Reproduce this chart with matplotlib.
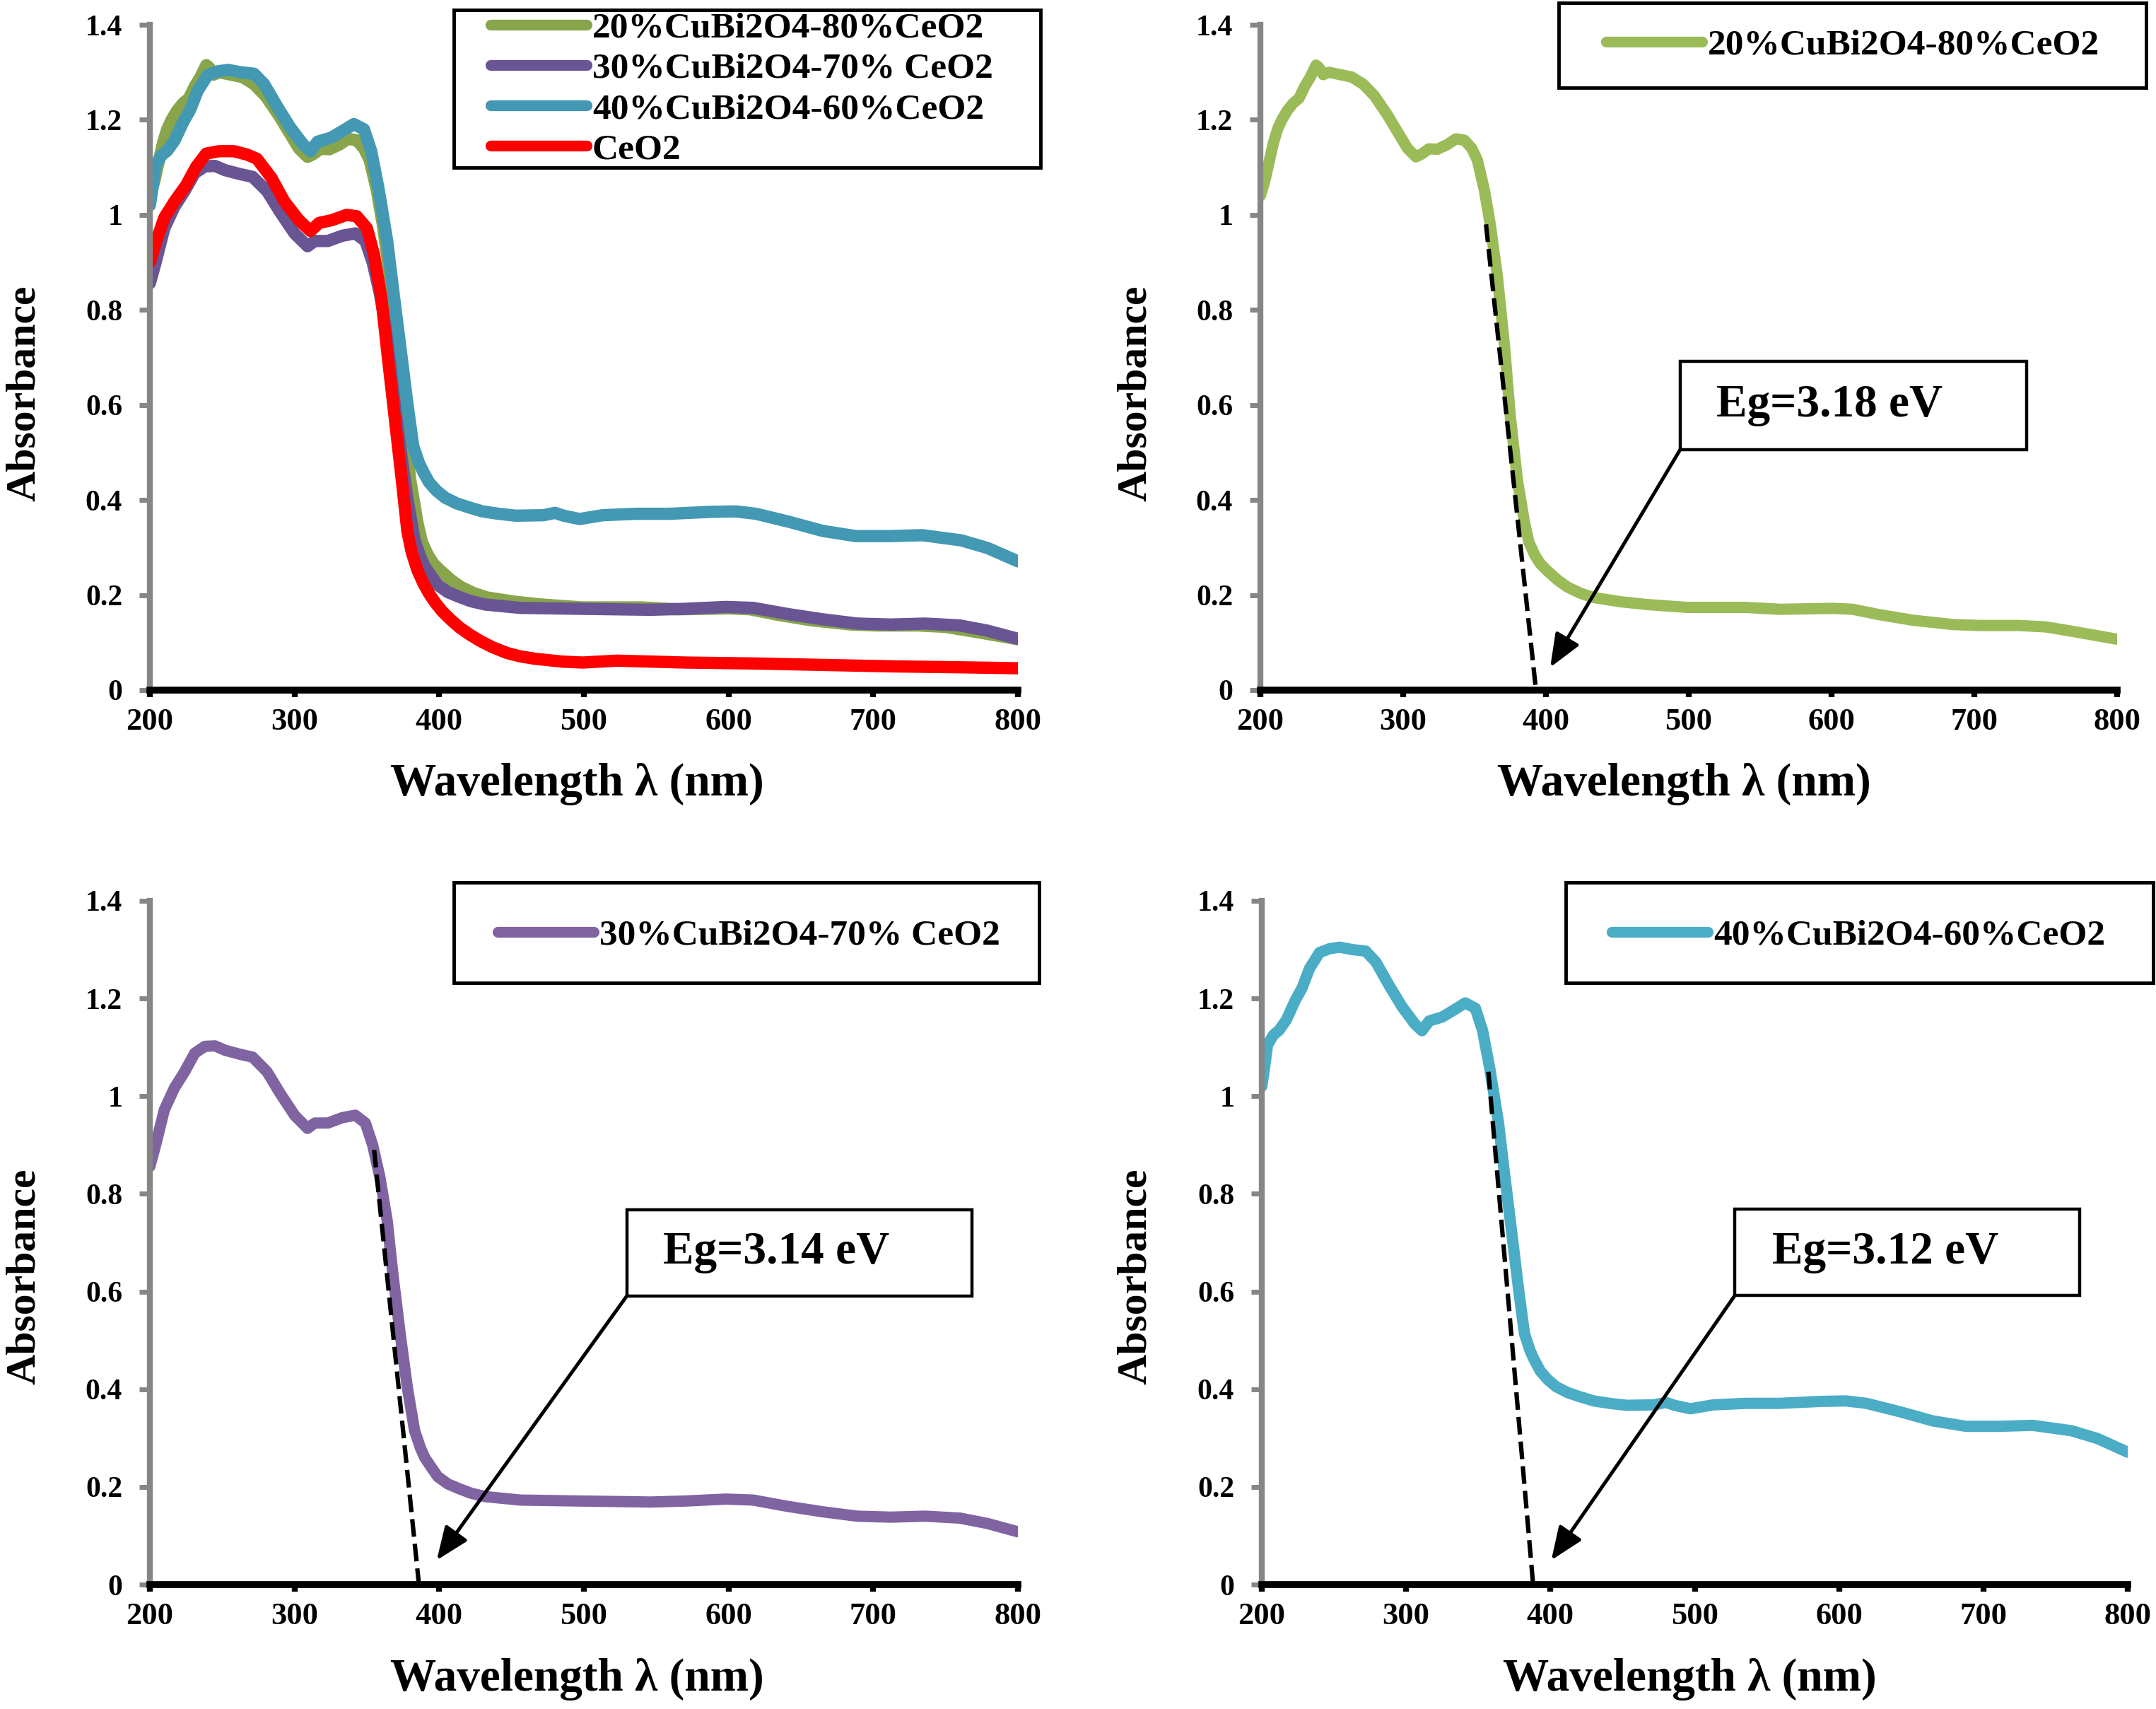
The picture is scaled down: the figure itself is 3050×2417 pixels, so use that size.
import matplotlib
matplotlib.use("Agg")
import matplotlib.pyplot as plt
from matplotlib.patches import Rectangle
from matplotlib.lines import Line2D

plt.rcParams["font.family"] = ["Liberation Serif", "DejaVu Serif"]
plt.rcParams["font.weight"] = "bold"

# ---------------- data ----------------
wl_20 = [200, 203, 206, 209, 212, 215, 219, 223, 227, 231, 235, 239, 241, 244, 248,
         256, 264, 272, 280, 289, 297, 303, 309, 313, 318, 324, 331, 337, 343, 348,
         352, 357, 361, 366, 371, 375, 380, 385, 388, 392, 396, 401, 408, 415, 424,
         433, 452, 471, 499, 540, 564, 601, 615, 633, 657, 685, 703, 731, 750, 768,
         787, 800]
abs_20 = [1.04, 1.07, 1.11, 1.15, 1.18, 1.20, 1.22, 1.235, 1.245, 1.27, 1.29, 1.315, 1.31, 1.295, 1.30,
          1.295, 1.29, 1.275, 1.25, 1.21, 1.17, 1.14, 1.122, 1.128, 1.139, 1.138, 1.148, 1.16, 1.157, 1.14,
          1.115, 1.05, 0.98, 0.87, 0.723, 0.577, 0.442, 0.352, 0.312, 0.285, 0.266, 0.251, 0.232, 0.217, 0.204,
          0.195, 0.186, 0.180, 0.174, 0.174, 0.170, 0.172, 0.170, 0.159, 0.147, 0.138, 0.136, 0.136, 0.133, 0.124,
          0.114, 0.107]

wl_30 = [200, 204, 210, 217, 224, 231, 238, 245, 252, 262, 271, 281, 290, 300, 309,
         314, 323, 333, 342, 349, 354, 359, 364, 368, 373, 378, 383, 387, 390, 395,
         399, 406, 414, 422, 432, 456, 499, 546, 570, 598, 617, 641, 665, 689, 712,
         736, 760, 779, 800]
abs_30 = [0.856, 0.90, 0.972, 1.017, 1.05, 1.088, 1.102, 1.103, 1.094, 1.086, 1.08, 1.05, 1.006, 0.961, 0.934,
          0.945, 0.945, 0.956, 0.961, 0.945, 0.90, 0.834, 0.746, 0.635, 0.514, 0.403, 0.315, 0.28, 0.26, 0.238,
          0.221, 0.206, 0.196, 0.187, 0.18, 0.173, 0.171, 0.169, 0.171, 0.175, 0.173, 0.16, 0.149, 0.14, 0.138,
          0.14, 0.136, 0.125, 0.108]

wl_40 = [200, 202, 204, 208, 212, 217, 223, 228, 233, 240, 247, 254, 263, 272, 279,
         288, 297, 306, 311, 316, 325, 334, 341, 348, 353, 358, 364, 368, 373, 378,
         382, 386, 389, 393, 398, 404, 412, 420, 430, 441, 453, 472, 480, 486, 497,
         513, 536, 559, 587, 605, 619, 642, 665, 688, 711, 734, 761, 779, 800]
abs_40 = [1.02, 1.06, 1.105, 1.125, 1.135, 1.156, 1.195, 1.222, 1.261, 1.294, 1.302, 1.305, 1.300, 1.297, 1.275,
          1.228, 1.184, 1.148, 1.134, 1.154, 1.162, 1.178, 1.191, 1.180, 1.134, 1.056, 0.946, 0.846, 0.725, 0.603,
          0.514, 0.478, 0.459, 0.437, 0.420, 0.405, 0.393, 0.385, 0.376, 0.371, 0.367, 0.368, 0.373, 0.367, 0.360,
          0.368, 0.371, 0.371, 0.375, 0.376, 0.371, 0.354, 0.335, 0.324, 0.324, 0.326, 0.315, 0.299, 0.271]

wl_ce = [200, 205, 210, 217, 225, 232, 239, 248, 258, 267, 274, 284, 293, 303, 311,
         317, 326, 336, 343, 350, 355, 360, 364, 369, 374, 378, 381, 385, 389, 393,
         397, 402, 408, 414, 421, 428, 437, 447, 456, 466, 485, 499, 523, 570, 618,
         665, 712, 760, 800]
abs_ce = [0.90, 0.95, 0.994, 1.028, 1.062, 1.101, 1.129, 1.134, 1.134, 1.127, 1.118, 1.078, 1.028, 0.989, 0.966,
          0.983, 0.989, 1.0, 0.997, 0.972, 0.916, 0.826, 0.714, 0.58, 0.446, 0.334, 0.29, 0.252, 0.225, 0.203,
          0.185, 0.166, 0.148, 0.132, 0.117, 0.104, 0.09, 0.078, 0.071, 0.066, 0.06, 0.058, 0.062, 0.058, 0.056,
          0.053, 0.05, 0.048, 0.046]

# tangent (band-edge extrapolation) lines
tan_20_x, tan_20_y = [358, 393], [0.98, 0.0]
tan_30_x, tan_30_y = [355, 386], [0.89, 0.0]
tan_40_x, tan_40_y = [357, 388], [1.05, 0.0]

series_labels = ["20%CuBi2O4-80%CeO2", "30%CuBi2O4-70% CeO2", "40%CuBi2O4-60%CeO2", "CeO2"]
eg_labels = ["Eg=3.18 eV", "Eg=3.14 eV", "Eg=3.12 eV"]

x_ticks = [200, 300, 400, 500, 600, 700, 800]
x_tick_labels = ["200", "300", "400", "500", "600", "700", "800"]
y_ticks = [0, 0.2, 0.4, 0.6, 0.8, 1.0, 1.2, 1.4]
y_tick_labels = ["0", "0.2", "0.4", "0.6", "0.8", "1", "1.2", "1.4"]
xlabel_text = "Wavelength λ (nm)"
ylabel_text = "Absorbance"

# ---------------- styles / layout ----------------
W, H = 3050, 2417
GRAY = "#868686"
C_TL = ["#88A54C", "#6A5594", "#4398B3", "#FF0000"]
C_SINGLE = {"20": "#9BBB59", "30": "#8064A2", "40": "#4BACC6"}

fig = plt.figure(figsize=(W / 100, H / 100), dpi=100)


def frac(x, y):
    return (x / W, 1 - y / H)


def make_axes(l, t, r, b):
    return fig.add_axes([l / W, 1 - b / H, (r - l) / W, (b - t) / H])


def style(ax, ylab_px, xlab_px):
    ax.set_xlim(200, 800)
    ax.set_ylim(0, 1.4)
    ax.set_xticks(x_ticks)
    ax.set_xticklabels(x_tick_labels)
    ax.set_yticks(y_ticks)
    ax.set_yticklabels(y_tick_labels)
    for s in ["top", "right"]:
        ax.spines[s].set_visible(False)
    ax.spines["left"].set_color(GRAY)
    ax.spines["left"].set_linewidth(6)
    ax.spines["bottom"].set_color("black")
    ax.spines["bottom"].set_linewidth(7)
    ax.tick_params(axis="y", direction="out", length=11, width=5, color=GRAY,
                   pad=17, labelsize=30)
    ax.tick_params(axis="x", direction="out", length=7, width=6, color="black",
                   pad=11, labelsize=32)
    for lab in ax.get_xticklabels() + ax.get_yticklabels():
        lab.set_fontweight("bold")
    ax.set_xlabel(xlabel_text, fontsize=47, fontweight="bold")
    ax.set_ylabel(ylabel_text, fontsize=43, fontweight="bold")
    ax.xaxis.set_label_coords(*frac(*xlab_px), transform=fig.transFigure)
    ax.yaxis.set_label_coords(*frac(*ylab_px), transform=fig.transFigure)
    ax.xaxis.label.set_va("center")
    ax.yaxis.label.set_va("center")
    ax.yaxis.label.set_ha("center")


def legend_box(l, t, r, b):
    fig.add_artist(Rectangle(frac(l, b), (r - l) / W, (b - t) / H,
                             transform=fig.transFigure, fill=False,
                             ec="black", lw=3.5, zorder=10))


def add_legend(ax, colors, labels, left_px, cy_px):
    handles = [Line2D([], [], color=c, lw=11, solid_capstyle="round") for c in colors]
    ax.legend(handles, labels, loc="center left", bbox_to_anchor=frac(left_px, cy_px),
              bbox_transform=fig.transFigure, frameon=False, borderpad=0,
              borderaxespad=0, handlelength=2.65, handletextpad=0.15,
              labelspacing=0.2, prop={"family": ["Liberation Serif"], "weight": "bold", "size": 37})


def eg_annot(ax, box, text_xy, tip, tail, label, tan_x, tan_y):
    x0, y0, x1, y1 = box
    ax.plot(tan_x, tan_y, color="black", lw=4.5, dashes=(4, 1.6), zorder=3)
    ax.add_patch(Rectangle((x0, y0), x1 - x0, y1 - y0, fill=True, fc="white",
                           ec="black", lw=3.2, zorder=4, clip_on=False))
    ax.text(text_xy[0], text_xy[1], label, fontsize=47, fontweight="bold",
            ha="left", va="center", zorder=5)
    ax.annotate("", xy=tip, xytext=tail,
                arrowprops=dict(arrowstyle="-|>,head_length=1.1,head_width=0.45",
                                mutation_scale=26, lw=3.6, color="black",
                                shrinkA=0, shrinkB=0), zorder=5)


LW_TL = 12.5
LW_ONE = 11.5

# ---- top-left: all samples ----
ax1 = make_axes(212, 35, 1440, 976)
for wl, ab, c in zip([wl_20, wl_30, wl_40, wl_ce], [abs_20, abs_30, abs_40, abs_ce], C_TL):
    ax1.plot(wl, ab, color=c, lw=LW_TL, solid_capstyle="round", solid_joinstyle="round")
style(ax1, (35, 556), (816, 1109))
legend_box(642, 14, 1472, 237)
add_legend(ax1, C_TL, series_labels, 694, 126)

# ---- top-right: 20% ----
ax2 = make_axes(1783, 35, 2995, 976)
ax2.plot(wl_20, abs_20, color=C_SINGLE["20"], lw=LW_ONE, solid_capstyle="round", solid_joinstyle="round")
style(ax2, (1607, 556), (2382, 1109))
legend_box(2205, 4, 3036, 124)
add_legend(ax2, [C_SINGLE["20"]], [series_labels[0]], 2272, 64)
eg_annot(ax2, (494, 0.506, 736.5, 0.692), (519.5, 0.60), (403, 0.048), (494, 0.506),
         eg_labels[0], tan_20_x, tan_20_y)

# ---- bottom-left: 30% ----
ax3 = make_axes(212, 1274, 1440, 2241)
ax3.plot(wl_30, abs_30, color=C_SINGLE["30"], lw=LW_ONE, solid_capstyle="round", solid_joinstyle="round")
style(ax3, (35, 1805), (816, 2375))
legend_box(642, 1248, 1470, 1390)
add_legend(ax3, [C_SINGLE["30"]], [series_labels[1]], 704, 1323)
eg_annot(ax3, (529.7, 0.591, 768.3, 0.768), (554.8, 0.68), (398.3, 0.05), (529.7, 0.591),
         eg_labels[1], tan_30_x, tan_30_y)

# ---- bottom-right: 40% ----
ax4 = make_axes(1785, 1274, 3010, 2241)
ax4.plot(wl_40, abs_40, color=C_SINGLE["40"], lw=LW_ONE, solid_capstyle="round", solid_joinstyle="round")
style(ax4, (1607, 1805), (2390, 2375))
legend_box(2215, 1248, 3046, 1390)
add_legend(ax4, [C_SINGLE["40"]], [series_labels[2]], 2280, 1323)
eg_annot(ax4, (527.8, 0.592, 766.6, 0.769), (553.5, 0.68), (400.6, 0.05), (527.8, 0.592),
         eg_labels[2], tan_40_x, tan_40_y)

fig.savefig("out.png", dpi=100, facecolor="white")
